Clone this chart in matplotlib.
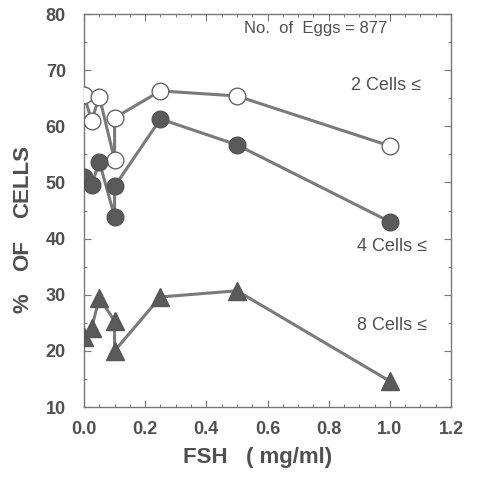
import matplotlib
matplotlib.use("Agg")
import matplotlib.pyplot as plt
from matplotlib.ticker import MultipleLocator

# Data (FSH mg/ml vs % of cells)
fsh = [0.0, 0.025, 0.05, 0.1, 0.1, 0.25, 0.5, 1.0]
cells2 = [65.5, 61.0, 65.3, 54.0, 61.5, 66.3, 65.4, 56.5]
cells4 = [51.0, 49.5, 53.7, 43.9, 49.3, 61.3, 56.7, 43.0]
cells8 = [22.5, 24.0, 29.5, 25.3, 20.0, 29.6, 30.7, 14.6]

xticks = [0.0, 0.2, 0.4, 0.6, 0.8, 1.0, 1.2]
xticklabels = ["0.0", "0.2", "0.4", "0.6", "0.8", "1.0", "1.2"]
yticks = [10, 20, 30, 40, 50, 60, 70, 80]

plt.rcParams['font.family'] = ['Liberation Sans', 'DejaVu Sans']
W, H = 478, 484
fig = plt.figure(figsize=(W / 100, H / 100), dpi=100)
ax = fig.add_axes([84 / W, 1 - 407 / H, (451 - 84) / W, (407 - 14) / H])

line_col = '#7a7a7a'
fill_col = '#5a5a5a'
txt_col = '#505050'

ax.plot(fsh, cells2, '-', color=line_col, lw=2.2, marker='o', ms=12,
        mfc='white', mec='#666666', mew=1.0, zorder=3)
ax.plot(fsh, cells4, '-', color=line_col, lw=2.2, marker='o', ms=12,
        mfc=fill_col, mec='#555555', mew=1.0, zorder=3)
ax.plot(fsh, cells8, '-', color=line_col, lw=2.2, marker='^', ms=12.5,
        mfc=fill_col, mec='#555555', mew=1.0, zorder=3)

ax.set_xlim(0, 1.2)
ax.set_ylim(10, 80)
ax.set_xticks(xticks)
ax.set_xticklabels(xticklabels)
ax.set_yticks(yticks)
ax.xaxis.set_minor_locator(MultipleLocator(0.05))
ax.yaxis.set_minor_locator(MultipleLocator(5))
ax.tick_params(which='both', direction='in', top=True, right=True,
               colors='#777777', labelcolor=txt_col)
ax.tick_params(which='major', length=5, width=0.8, labelsize=13)
ax.tick_params(axis='x', which='major', pad=10)
ax.tick_params(axis='y', which='major', pad=13)
ax.tick_params(which='minor', length=2.5, width=0.7)
for lab in ax.get_xticklabels() + ax.get_yticklabels():
    lab.set_fontweight('bold')
for s in ax.spines.values():
    s.set_color('#777777')
    s.set_linewidth(1.0)

# axis titles
fig.text(258 / W, 1 - 458 / H, "FSH   ( mg/ml)", fontsize=16, fontweight='bold',
         color=txt_col, ha='center', va='center')
for word, yc in [("CELLS", 182), ("OF", 256), ("%", 303)]:
    fig.text(23 / W, 1 - yc / H, word, fontsize=16, fontweight='bold',
             color=txt_col, ha='center', va='center', rotation=90)

fig.text(316 / W, 1 - 28 / H, "No.  of  Eggs = 877",
         fontsize=12, color=txt_col, ha='center', va='center')
ax.text(0.988, 67.2, "2 Cells \u2264", fontsize=13, color=txt_col, ha='center', va='center')
ax.text(1.007, 38.5, "4 Cells \u2264", fontsize=13, color=txt_col, ha='center', va='center')
ax.text(1.007, 24.6, "8 Cells \u2264", fontsize=13, color=txt_col, ha='center', va='center')

fig.savefig("out.png", dpi=100)
